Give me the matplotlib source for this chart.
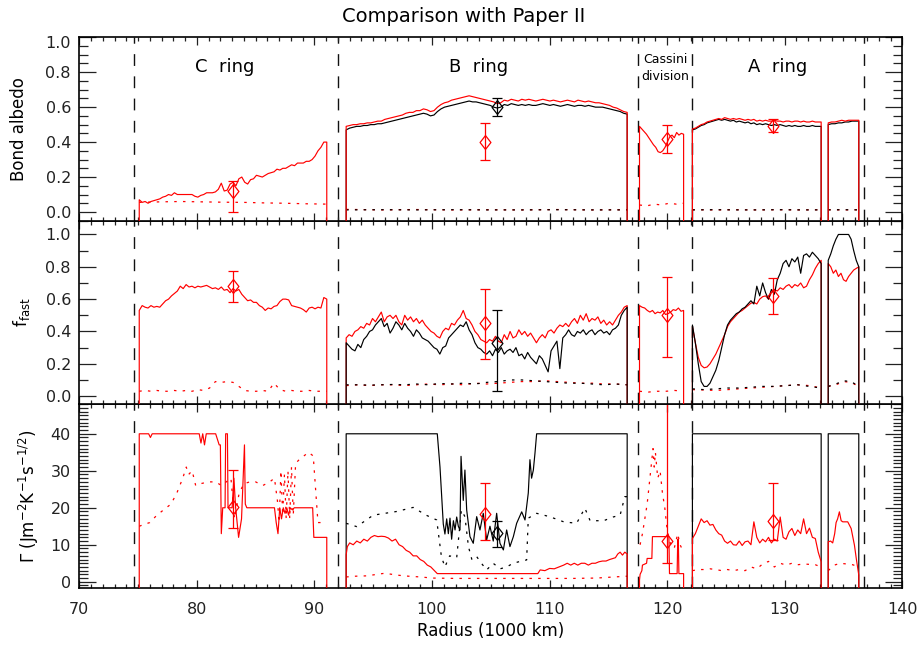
import numpy as np
import matplotlib.pyplot as plt
from matplotlib.ticker import MultipleLocator, FormatStrFormatter, FixedFormatter

plt.rcParams['font.family'] = ['DejaVu Sans']

RED = '#ff0000'

# ring boundaries (1000 km)
ring_edges = [74.66, 92.0, 117.55, 122.1, 136.75]

# radial extent of the model profiles in each region
c_span = (75.1, 91.05)
b_span = (92.7, 116.6)
cd_span = (117.65, 121.4)
a_span = (122.15, 133.1)
a2_span = (133.7, 136.3)

# ---------------- Bond albedo ----------------
alb_red_c = [0.07, 0.055, 0.06, 0.05, 0.06, 0.065, 0.07, 0.075, 0.085, 0.09,
             0.10, 0.095, 0.11, 0.10, 0.10, 0.10, 0.10, 0.10, 0.10, 0.09,
             0.085, 0.095, 0.10, 0.11, 0.11, 0.11, 0.115, 0.13, 0.165, 0.12,
             0.125, 0.16, 0.17, 0.15, 0.19, 0.20, 0.17, 0.16, 0.185, 0.19,
             0.21, 0.205, 0.20, 0.21, 0.22, 0.225, 0.23, 0.245, 0.24, 0.25,
             0.25, 0.26, 0.27, 0.265, 0.28, 0.28, 0.28, 0.29, 0.29, 0.30,
             0.32, 0.35, 0.37, 0.40, 0.40]
alb_red_b = [0.49, 0.495, 0.50, 0.50, 0.505, 0.505, 0.51, 0.51, 0.515, 0.52,
             0.52, 0.53, 0.535, 0.54, 0.545, 0.55, 0.555, 0.565, 0.57, 0.57,
             0.58, 0.58, 0.59, 0.585, 0.575, 0.58, 0.60, 0.615, 0.625, 0.63,
             0.64, 0.645, 0.65, 0.655, 0.66, 0.665, 0.66, 0.655, 0.65, 0.645,
             0.64, 0.635, 0.63, 0.62, 0.625, 0.64, 0.635, 0.645, 0.64, 0.635,
             0.645, 0.64, 0.645, 0.64, 0.635, 0.64, 0.645, 0.64, 0.635, 0.64,
             0.635, 0.63, 0.635, 0.64, 0.635, 0.63, 0.64, 0.635, 0.63, 0.635,
             0.63, 0.625, 0.625, 0.62, 0.615, 0.61, 0.60, 0.595, 0.585, 0.575,
             0.57]
alb_red_cd = [0.49, 0.475, 0.46, 0.445, 0.425, 0.405, 0.385, 0.37, 0.345, 0.34,
              0.35, 0.37, 0.40, 0.43, 0.44, 0.425, 0.455, 0.44, 0.45, 0.445]
alb_red_a = [0.475, 0.48, 0.49, 0.50, 0.505, 0.515, 0.52, 0.525, 0.53, 0.535,
             0.53, 0.54, 0.535, 0.53, 0.535, 0.53, 0.535, 0.53, 0.525, 0.53,
             0.525, 0.53, 0.52, 0.525, 0.52, 0.525, 0.52, 0.52, 0.525, 0.52,
             0.52, 0.515, 0.52, 0.52, 0.515, 0.52, 0.52, 0.515, 0.52, 0.515,
             0.515, 0.52, 0.515, 0.515, 0.515]
alb_red_a2 = [0.51, 0.515, 0.515, 0.52, 0.525, 0.52, 0.525, 0.525, 0.525, 0.525]

alb_blk_b = [0.47, 0.48, 0.485, 0.49, 0.49, 0.495, 0.495, 0.50, 0.50, 0.505,
             0.505, 0.51, 0.515, 0.52, 0.525, 0.53, 0.535, 0.54, 0.545, 0.55,
             0.555, 0.56, 0.565, 0.56, 0.55, 0.555, 0.575, 0.59, 0.60, 0.605,
             0.61, 0.615, 0.62, 0.625, 0.63, 0.635, 0.63, 0.63, 0.625, 0.62,
             0.615, 0.61, 0.60, 0.595, 0.60, 0.615, 0.61, 0.62, 0.615, 0.61,
             0.615, 0.61, 0.615, 0.61, 0.61, 0.615, 0.62, 0.615, 0.61, 0.615,
             0.61, 0.605, 0.61, 0.615, 0.61, 0.605, 0.61, 0.61, 0.605, 0.61,
             0.605, 0.60, 0.60, 0.60, 0.595, 0.59, 0.585, 0.58, 0.575, 0.565,
             0.56]
alb_blk_a = [0.47, 0.475, 0.485, 0.495, 0.50, 0.51, 0.515, 0.52, 0.525, 0.53,
             0.525, 0.53, 0.525, 0.52, 0.525, 0.515, 0.52, 0.515, 0.51, 0.515,
             0.505, 0.51, 0.50, 0.505, 0.50, 0.505, 0.50, 0.495, 0.50, 0.495,
             0.50, 0.495, 0.49, 0.495, 0.49, 0.495, 0.49, 0.49, 0.495, 0.49,
             0.49, 0.495, 0.49, 0.49, 0.49]
alb_blk_a2 = [0.50, 0.505, 0.505, 0.51, 0.51, 0.515, 0.515, 0.52, 0.52, 0.52]

alb_red_dot_c = [0.055, 0.058, 0.06, 0.058, 0.056, 0.055, 0.052, 0.05, 0.047, 0.045]
alb_red_dot_b = [0.015, 0.012, 0.014, 0.012, 0.013, 0.012, 0.014, 0.012, 0.013]
alb_red_dot_cd = [0.04, 0.035, 0.045, 0.04, 0.05, 0.045, 0.05]
alb_red_dot_a = [0.013, 0.012, 0.013, 0.012, 0.013, 0.012, 0.013]
alb_red_dot_a2 = [0.013, 0.012, 0.013]
alb_blk_dot_b = [0.012, 0.013, 0.012, 0.013, 0.012, 0.012, 0.013, 0.012, 0.012]
alb_blk_dot_a = [0.012, 0.013, 0.012, 0.012, 0.013, 0.012, 0.012]
alb_blk_dot_a2 = [0.012, 0.013, 0.012]

# ---------------- fast-rotator fraction ----------------
ff_red_c = [0.53, 0.56, 0.55, 0.545, 0.56, 0.55, 0.555, 0.55, 0.57, 0.59,
            0.60, 0.62, 0.635, 0.65, 0.68, 0.665, 0.69, 0.675, 0.68, 0.67,
            0.68, 0.675, 0.68, 0.685, 0.675, 0.665, 0.67, 0.66, 0.675, 0.655,
            0.66, 0.64, 0.665, 0.65, 0.66, 0.63, 0.61, 0.59, 0.595, 0.58,
            0.58, 0.56, 0.55, 0.53, 0.545, 0.54, 0.555, 0.56, 0.585, 0.60,
            0.60, 0.595, 0.56, 0.555, 0.55, 0.545, 0.535, 0.52, 0.545, 0.55,
            0.54, 0.55, 0.545, 0.61, 0.60]
ff_red_b = [0.36, 0.38, 0.37, 0.40, 0.41, 0.43, 0.42, 0.45, 0.44, 0.48,
            0.46, 0.49, 0.52, 0.46, 0.49, 0.50, 0.48, 0.50, 0.46, 0.44,
            0.50, 0.47, 0.49, 0.46, 0.48, 0.45, 0.47, 0.44, 0.42, 0.40,
            0.39, 0.37, 0.36, 0.40, 0.42, 0.41, 0.45, 0.44, 0.47, 0.49,
            0.53, 0.48, 0.47, 0.44, 0.40, 0.38, 0.35, 0.34, 0.33, 0.35,
            0.34, 0.37, 0.34, 0.33, 0.38, 0.35, 0.40, 0.36, 0.37, 0.41,
            0.38, 0.40, 0.37, 0.39, 0.36, 0.33, 0.36, 0.38, 0.36, 0.40,
            0.41, 0.39, 0.42, 0.44, 0.43, 0.45, 0.43, 0.46, 0.48, 0.45,
            0.50, 0.47, 0.51, 0.46, 0.48, 0.47, 0.49, 0.45, 0.47, 0.44,
            0.46, 0.44, 0.47, 0.50, 0.52, 0.55, 0.56]
ff_red_cd = [0.56, 0.55, 0.545, 0.53, 0.52, 0.53, 0.51, 0.52, 0.515, 0.53,
             0.505, 0.51, 0.52, 0.535, 0.53, 0.545, 0.525, 0.53]
ff_red_a = [0.43, 0.33, 0.24, 0.19, 0.175, 0.18, 0.20, 0.23, 0.26, 0.30,
            0.34, 0.38, 0.43, 0.46, 0.48, 0.50, 0.52, 0.53, 0.545, 0.56,
            0.575, 0.58, 0.57, 0.60, 0.615, 0.62, 0.60, 0.64, 0.66, 0.65,
            0.67, 0.66, 0.68, 0.69, 0.67, 0.69, 0.68, 0.70, 0.67, 0.68,
            0.72, 0.75, 0.79, 0.82, 0.84]
ff_red_a2 = [0.82, 0.80, 0.76, 0.78, 0.74, 0.76, 0.72, 0.71, 0.74, 0.76,
             0.78, 0.79, 0.80]

ff_blk_b = [0.33, 0.31, 0.29, 0.28, 0.32, 0.30, 0.35, 0.37, 0.40, 0.41,
            0.44, 0.46, 0.48, 0.43, 0.45, 0.39, 0.42, 0.46, 0.44, 0.41,
            0.45, 0.42, 0.40, 0.37, 0.41, 0.39, 0.36, 0.35, 0.34, 0.32,
            0.30, 0.29, 0.26, 0.30, 0.31, 0.36, 0.38, 0.40, 0.42, 0.44,
            0.43, 0.46, 0.41, 0.38, 0.33, 0.30, 0.29, 0.27, 0.26, 0.28,
            0.25, 0.29, 0.27, 0.30, 0.26, 0.28, 0.29, 0.27, 0.30, 0.25,
            0.26, 0.23, 0.27, 0.24, 0.22, 0.20, 0.25, 0.23, 0.19, 0.15,
            0.28, 0.31, 0.34, 0.17, 0.36, 0.38, 0.41, 0.38, 0.37, 0.40,
            0.39, 0.41, 0.38, 0.40, 0.41, 0.38, 0.40, 0.41, 0.39, 0.40,
            0.38, 0.41, 0.42, 0.44, 0.50, 0.53, 0.55]
ff_blk_a = [0.44, 0.33, 0.20, 0.09, 0.06, 0.06, 0.08, 0.12, 0.16, 0.22,
            0.30, 0.38, 0.44, 0.47, 0.49, 0.51, 0.52, 0.54, 0.55, 0.57,
            0.59, 0.57, 0.68, 0.62, 0.70, 0.64, 0.60, 0.66, 0.63, 0.72,
            0.76, 0.82, 0.84, 0.80, 0.85, 0.83, 0.86, 0.76, 0.87, 0.88,
            0.86, 0.89, 0.87, 0.85, 0.82]
ff_blk_a2 = [0.84, 0.88, 0.93, 0.97, 1.0, 1.0, 1.0, 1.0, 1.0, 0.97,
             0.90, 0.84, 0.80]

ff_red_dot_c = [0.03, 0.035, 0.03, 0.035, 0.03, 0.03, 0.035, 0.03, 0.035, 0.03,
                0.04, 0.035, 0.05, 0.09, 0.085, 0.09, 0.085, 0.06, 0.035, 0.03,
                0.03, 0.035, 0.03, 0.08, 0.04, 0.03, 0.035, 0.03, 0.03, 0.035,
                0.03, 0.03, 0.03]
ff_red_dot_b = [0.065, 0.07, 0.065, 0.07, 0.07, 0.065, 0.07, 0.075, 0.07, 0.075,
                0.07, 0.08, 0.075, 0.08, 0.085, 0.09, 0.09, 0.095, 0.09, 0.085,
                0.08, 0.08, 0.075, 0.075, 0.07]
ff_red_dot_cd = [0.03, 0.025, 0.03, 0.03, 0.035, 0.03]
ff_red_dot_a = [0.04, 0.038, 0.035, 0.04, 0.045, 0.05, 0.055, 0.06, 0.065, 0.07,
                0.065, 0.05]
ff_red_dot_a2 = [0.06, 0.07, 0.09, 0.085, 0.06]
ff_blk_dot_b = [0.07, 0.07, 0.068, 0.07, 0.072, 0.07, 0.075, 0.07, 0.078, 0.075,
                0.08, 0.075, 0.085, 0.09, 0.10, 0.10, 0.095, 0.09, 0.085, 0.08,
                0.08, 0.075, 0.07, 0.075, 0.07]
ff_blk_dot_a = [0.045, 0.04, 0.045, 0.05, 0.05, 0.055, 0.06, 0.06, 0.065, 0.07,
                0.06, 0.05]
ff_blk_dot_a2 = [0.06, 0.075, 0.095, 0.09, 0.06]

# ---------------- thermal inertia ----------------
gam_red_c_r = [75.1, 75.9, 76.05, 76.2, 80.2, 80.35, 80.5, 80.65, 80.8, 81.0,
               81.6, 81.9, 82.0, 82.08, 82.2, 82.4, 82.45, 82.6, 82.65, 82.8,
               83.0, 83.15, 83.3, 83.55, 83.8, 84.05, 84.12, 84.25, 84.5, 86.6,
               86.75, 86.9, 87.05, 87.2, 87.35, 87.5, 87.65, 87.8, 87.95, 88.1,
               88.3, 89.85, 89.95, 91.05]
gam_red_c = [40, 40, 39, 40, 40, 37.5, 40, 37, 40, 40,
             40, 37, 37, 13, 20, 20, 40, 40, 20, 20,
             20, 28, 20, 12, 17, 37, 21, 20, 20, 20,
             16, 13, 20, 17, 20, 18.5, 20, 18, 20, 19.5,
             20, 20, 12, 12]
gam_red_b_r = [92.7, 92.8, 93.0, 93.3, 93.6, 93.9, 94.2, 94.5, 94.8, 95.1,
               95.4, 95.7, 96.0, 96.3, 96.6, 96.9, 97.2, 97.5, 97.8, 98.1,
               98.4, 98.7, 99.0, 99.3, 99.6, 99.9, 100.2, 100.45, 109.0, 109.2,
               109.6, 110.0, 110.4, 110.8, 111.2, 111.5, 111.8, 112.1, 112.4, 112.7,
               113.0, 113.3, 113.6, 113.9, 114.2, 114.5, 114.8, 115.1, 115.4, 115.6,
               115.8, 116.0, 116.2, 116.4, 116.6]
gam_red_b = [7.3, 9.5, 10.5, 10, 11, 10.5, 11.5, 11, 12, 12.5,
             12.2, 12.3, 12.2, 11.8, 11, 11.5, 10, 9.5, 8.5, 8,
             7, 7, 6, 5.5, 4.5, 4, 3, 2.2, 2.2, 3.2,
             3, 3.6, 3.5, 4, 4.5, 5, 4.5, 5, 4.5, 5,
             5, 4.5, 5, 5, 5.4, 5.6, 5.6, 6, 6.3, 6.5,
             7.5, 8, 7.2, 8, 7.5]
gam_red_cd_r = [117.65, 117.7, 117.85, 117.9, 118.25, 118.3, 118.7, 118.75, 120.15,
                120.2, 120.85, 120.9, 120.95, 121.0, 121.4]
gam_red_cd = [0.5, 2.0, 3.0, 4.5, 5.0, 6.3, 6.3, 12.2, 12.2,
              2.2, 2.2, 11.5, 11.5, 2.2, 2.2]
gam_red_a = [11.7, 13, 15, 17, 16, 16.5, 15.3, 15.5, 14, 13,
             12.6, 11, 10.4, 11, 10, 9.9, 11, 9.8, 10.8, 11,
             10, 16.2, 12, 10.5, 11.5, 10.8, 12, 10.5, 11.5, 11,
             17.5, 12, 11.5, 13.5, 14.4, 12.5, 14, 13, 17, 13,
             14.5, 12, 11.7, 8, 5.4]
gam_red_a2_r = [133.7, 133.9, 134.08, 134.25, 134.37, 134.5, 134.65, 134.8,
                134.94, 135.36, 135.65, 135.8, 135.93, 136.1, 136.3]
gam_red_a2 = [10.8, 11.0, 10.5, 13.0, 16.0, 17.0, 18.9, 16.5,
              16.2, 16.2, 14.4, 12.0, 9.9, 6.0, 1.8]

gam_blk_b_r = [92.7, 100.45, 100.68, 100.96, 101.1, 101.25, 101.39, 101.53, 101.67, 101.82,
               101.96, 102.1, 102.24, 102.38, 102.47, 102.66, 102.8, 102.95, 103.23, 103.51,
               103.8, 104.08, 104.36, 104.65, 104.93, 105.21, 105.5, 105.78, 106.07, 106.35,
               106.63, 106.92, 107.2, 107.63, 107.91, 108.19, 108.33, 108.47, 108.62, 108.76,
               108.9, 116.6]
gam_blk_b = [40, 40, 31, 15.6, 12.9, 17, 13, 17.2, 11.5, 16.5,
             14, 17.5, 15, 14, 33.9, 22, 30.2, 19.4, 12.2, 10.4,
             17.6, 14, 18.5, 11.3, 15, 11, 18.5, 10.4, 8.6, 14,
             9.5, 12.2, 15.8, 18.9, 16.7, 24, 33, 28, 30.2, 34.8,
             40, 40]
gam_blk_a = [40, 40]
gam_blk_a2 = [40, 40]

gam_red_dot_c_r = [75.1, 75.5, 76.0, 76.6, 77.2, 77.8, 78.3, 78.8, 79.1, 79.3,
                   79.6, 79.9, 80.3, 81.0, 81.6, 82.1, 82.5, 82.9, 83.2, 83.6,
                   84.0, 84.5, 85.0, 85.6, 86.2, 86.6, 86.85, 87.0, 87.15, 87.3,
                   87.45, 87.6, 87.75, 87.9, 88.05, 88.2, 88.4, 88.7, 89.1, 89.5,
                   89.9, 90.1, 90.3, 90.6, 91.05]
gam_red_dot_c = [15, 15.5, 16, 18, 19.5, 21, 24, 28, 31, 29,
                 30, 26, 26.5, 27, 27, 26, 27, 28, 17, 24,
                 26.5, 27, 27, 26, 27, 28, 22, 16, 30, 18,
                 29, 17, 30, 17, 31, 18, 32, 33, 34, 35,
                 34, 25, 16, 16, 16]
gam_red_dot_b_r = [92.7, 93.5, 94.5, 95.3, 96.0, 97.0, 98.0, 99.0, 100.0, 102.0,
                   104.0, 106.0, 108.0, 110.0, 112.0, 114.0, 115.5, 116.6]
gam_red_dot_b = [1.3, 1.5, 1.6, 2.0, 2.3, 1.8, 1.5, 1.3, 1.0, 0.9,
                 0.9, 0.9, 0.9, 0.9, 0.9, 1.0, 1.3, 1.5]
gam_red_dot_cd_r = [117.7, 117.9, 118.1, 118.3, 118.5, 118.7, 118.8, 118.9, 119.0, 119.2,
                    119.4, 119.6, 119.8, 120.0, 120.3, 120.6, 120.9, 121.1, 121.4]
gam_red_dot_cd = [10, 13, 17, 21, 27, 33, 36, 31, 35, 28,
                  30, 24, 20, 14, 10, 9, 13, 10, 8]
gam_red_dot_a = [3.0, 3.3, 3.3, 3.5, 3.3, 3.0, 3.3, 3.0, 3.3, 3.0,
                 4.0, 3.5, 4.8, 5.5, 4.0, 5.0, 4.5, 5.0, 4.6, 4.8,
                 4.7, 4.6, 4.0]
gam_red_dot_a2 = [3.0, 4.5, 5.0, 4.8, 4.6, 4.0]
gam_blk_dot_b_r = [92.7, 93.6, 95.0, 97.0, 98.4, 99.5, 100.4, 100.8, 101.1, 101.5,
                   102.1, 102.5, 102.8, 103.1, 103.4, 103.8, 104.2, 104.65, 105.2, 105.8,
                   106.35, 106.9, 107.5, 108.05, 108.19, 108.9, 110.0, 111.2, 112.3, 113.0,
                   113.45, 114.6, 115.4, 116.0, 116.4, 116.6]
gam_blk_dot_b = [15.8, 14.9, 18, 19, 20.1, 18, 16.7, 6.8, 4, 7,
                 6.5, 19.4, 17.6, 9.5, 5.9, 6.8, 5, 3.2, 5, 3.5,
                 4, 5, 5.5, 5.9, 17.2, 18.5, 17.6, 16.2, 15.8, 19.9,
                 16.5, 16.5, 17.5, 18, 23, 23]

# ---------------- Paper II values ----------------
obs_r = [83.05, 104.5, 120.0, 129.0]
obs_alb = [0.12, 0.40, 0.42, 0.49]
obs_alb_lo = [0.12, 0.10, 0.08, 0.035]
obs_alb_hi = [0.06, 0.11, 0.08, 0.04]
obs_ff = [0.68, 0.45, 0.50, 0.62]
obs_ff_lo = [0.10, 0.22, 0.255, 0.11]
obs_ff_hi = [0.095, 0.21, 0.235, 0.11]
obs_gam = [20.2, 18.3, 11.1, 16.4]
obs_gam_lo = [5.7, 7.0, 6.1, 5.1]
obs_gam_hi = [9.9, 8.4, 60.0, 10.3]

obs_blk_r = [105.57]
obs_blk_alb, obs_blk_alb_lo, obs_blk_alb_hi = [0.60], [0.05], [0.05]
obs_blk_ff, obs_blk_ff_lo, obs_blk_ff_hi = [0.33], [0.30], [0.20]
obs_blk_gam, obs_blk_gam_lo, obs_blk_gam_hi = [13.2], [3.7], [3.1]

frac_ticks = [0.0, 0.2, 0.4, 0.6, 0.8, 1.0]
frac_labels = ['0.0', '0.2', '0.4', '0.6', '0.8', '1.0']


def sampled(span, values):
    return np.linspace(span[0], span[1], len(values)), np.asarray(values, float)


def explicit(radii, values):
    return np.asarray(radii, float), np.asarray(values, float)


def trace(segments, floor):
    """join segments, dropping to the floor in the gaps between them"""
    xs, ys = [], []
    for x, y in segments:
        xs += [x[0]] + list(x) + [x[-1]]
        ys += [floor] + list(y) + [floor]
    return xs, ys


def draw_solid(ax, segments, floor, color):
    xs, ys = trace(segments, floor)
    ax.plot(xs, ys, color=color, lw=0.85, zorder=3)


def draw_dotted(ax, segments, color):
    for x, y in segments:
        ax.plot(x, y, color=color, lw=0.9, ls=(0, (2, 5)), zorder=2)


def draw_obs(ax, r, v, lo, hi, color):
    diamond = [(0, 1), (0.78, 0), (0, -1), (-0.78, 0), (0, 1)]
    ax.errorbar(r, v, yerr=[lo, hi], fmt='none', ecolor=color, elinewidth=0.9,
                capsize=3.8, capthick=0.9, zorder=5)
    ax.plot(r, v, ls='none', marker=diamond, ms=10, mfc='none', mec=color,
            mew=0.9, zorder=5)


def style(ax, ylim, major, minor, fmt):
    ax.set_xlim(70, 140)
    ax.set_ylim(*ylim)
    ax.xaxis.set_major_locator(MultipleLocator(10))
    ax.xaxis.set_minor_locator(MultipleLocator(1))
    ax.yaxis.set_major_locator(MultipleLocator(major))
    ax.yaxis.set_minor_locator(MultipleLocator(minor))
    ax.yaxis.set_major_formatter(FormatStrFormatter(fmt))
    ax.tick_params(which='both', direction='in', top=True, right=True,
                   width=0.9, labelsize=11.5, colors='#222222')
    ax.tick_params(axis='y', which='major', length=12, pad=6)
    ax.tick_params(axis='y', which='minor', length=6.5)
    ax.tick_params(axis='x', which='major', length=6, pad=10)
    ax.tick_params(axis='x', which='minor', length=3)
    for sp in ax.spines.values():
        sp.set_linewidth(1.2)
    for e in ring_edges:
        ax.axvline(e, color='#111111', lw=1.0, ls=(0, (8.5, 7.5)), zorder=1)


fig = plt.figure(figsize=(9.24, 6.49), dpi=100)
left, width, h = 0.0858, 0.8907, 0.2827
ax3 = fig.add_axes([left, 0.0945, width, h])
ax2 = fig.add_axes([left, 0.0945 + h, width, h], sharex=ax3)
ax1 = fig.add_axes([left, 0.0945 + 2 * h, width, h], sharex=ax3)

# Bond albedo
style(ax1, (-0.05, 1.0), 0.2, 0.05, '%.1f')
ax1.yaxis.set_major_locator(plt.FixedLocator(frac_ticks))
ax1.yaxis.set_major_formatter(FixedFormatter(frac_labels[:-1] + ['']))
# top label sits just inside the panel
ax1.annotate(frac_labels[-1], xy=(0, frac_ticks[-1]),
             xycoords=('axes fraction', 'data'), xytext=(-6, -4.5),
             textcoords='offset points', ha='right', va='center',
             fontsize=11.5, color='#222222')
draw_dotted(ax1, [sampled(c_span, alb_red_dot_c), sampled(b_span, alb_red_dot_b),
                  sampled(cd_span, alb_red_dot_cd), sampled(a_span, alb_red_dot_a),
                  sampled(a2_span, alb_red_dot_a2)], RED)
draw_dotted(ax1, [sampled(b_span, alb_blk_dot_b), sampled(a_span, alb_blk_dot_a),
                  sampled(a2_span, alb_blk_dot_a2)], 'k')
draw_solid(ax1, [sampled(b_span, alb_blk_b), sampled(a_span, alb_blk_a),
                 sampled(a2_span, alb_blk_a2)], -1, 'k')
draw_solid(ax1, [sampled(c_span, alb_red_c), sampled(b_span, alb_red_b),
                 sampled(cd_span, alb_red_cd), sampled(a_span, alb_red_a),
                 sampled(a2_span, alb_red_a2)], -1, RED)
draw_obs(ax1, obs_r, obs_alb, obs_alb_lo, obs_alb_hi, RED)
draw_obs(ax1, obs_blk_r, obs_blk_alb, obs_blk_alb_lo, obs_blk_alb_hi, 'k')
ax1.set_ylabel('Bond albedo', fontsize=12)
ax1.yaxis.set_label_coords(-0.062, 0.5)
ax1.text(82.35, 0.83, 'C  ring', ha='center', va='center', fontsize=13)
ax1.text(103.93, 0.83, 'B  ring', ha='center', va='center', fontsize=13)
ax1.text(129.43, 0.83, 'A  ring', ha='center', va='center', fontsize=13)
ax1.text(119.82, 0.87, 'Cassini', ha='center', va='center', fontsize=9)
ax1.text(119.82, 0.775, 'division', ha='center', va='center', fontsize=9)

# fast-rotator fraction
style(ax2, (-0.05, 1.085), 0.2, 0.1, '%.1f')
draw_dotted(ax2, [sampled(c_span, ff_red_dot_c), sampled(b_span, ff_red_dot_b),
                  sampled(cd_span, ff_red_dot_cd), sampled(a_span, ff_red_dot_a),
                  sampled(a2_span, ff_red_dot_a2)], RED)
draw_dotted(ax2, [sampled(b_span, ff_blk_dot_b), sampled(a_span, ff_blk_dot_a),
                  sampled(a2_span, ff_blk_dot_a2)], 'k')
draw_solid(ax2, [sampled(c_span, ff_red_c), sampled(b_span, ff_red_b),
                 sampled(cd_span, ff_red_cd), sampled(a_span, ff_red_a),
                 sampled(a2_span, ff_red_a2)], -1, RED)
draw_solid(ax2, [sampled(b_span, ff_blk_b), sampled(a_span, ff_blk_a),
                 sampled(a2_span, ff_blk_a2)], -1, 'k')
draw_obs(ax2, obs_r, obs_ff, obs_ff_lo, obs_ff_hi, RED)
draw_obs(ax2, obs_blk_r, obs_blk_ff, obs_blk_ff_lo, obs_blk_ff_hi, 'k')
ax2.set_ylabel(r'f$_{\mathrm{fast}}$', fontsize=12)
ax2.yaxis.set_label_coords(-0.058, 0.5)

# thermal inertia
style(ax3, (-1.6, 48), 10, 1, '%d')
draw_dotted(ax3, [explicit(gam_red_dot_c_r, gam_red_dot_c),
                  explicit(gam_red_dot_b_r, gam_red_dot_b),
                  explicit(gam_red_dot_cd_r, gam_red_dot_cd),
                  sampled(a_span, gam_red_dot_a), sampled(a2_span, gam_red_dot_a2)], RED)
draw_dotted(ax3, [explicit(gam_blk_dot_b_r, gam_blk_dot_b)], 'k')
draw_solid(ax3, [explicit(gam_blk_b_r, gam_blk_b), sampled(a_span, gam_blk_a),
                 sampled(a2_span, gam_blk_a2)], -20, 'k')
draw_solid(ax3, [explicit(gam_red_c_r, gam_red_c), explicit(gam_red_b_r, gam_red_b),
                 explicit(gam_red_cd_r, gam_red_cd), sampled(a_span, gam_red_a),
                 explicit(gam_red_a2_r, gam_red_a2)], -20, RED)
draw_obs(ax3, obs_r, obs_gam, obs_gam_lo, obs_gam_hi, RED)
draw_obs(ax3, obs_blk_r, obs_blk_gam, obs_blk_gam_lo, obs_blk_gam_hi, 'k')
ax3.set_ylabel(r'$\Gamma$ (Jm$^{-2}$K$^{-1}$s$^{-1/2}$)', fontsize=12)
ax3.yaxis.set_label_coords(-0.047, 0.5)
ax3.set_xlabel('Radius (1000 km)', fontsize=12, labelpad=4)

ax1.tick_params(labelbottom=False)
ax2.tick_params(labelbottom=False)

fig.text(0.502, 1 - 17 / 649, 'Comparison with Paper II', ha='center',
         va='center', fontsize=14)

fig.savefig('out.png', dpi=100)
